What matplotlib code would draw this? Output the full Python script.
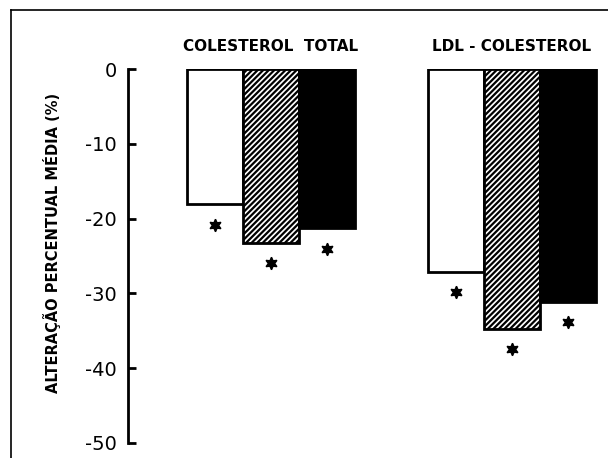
import matplotlib.pyplot as plt
from matplotlib.lines import Line2D
import numpy as np

# grupos e valores (% de alteracao media)
grupos = ['COLESTEROL  TOTAL', 'LDL - COLESTEROL']
branco = [-18.1, -27.1]
hachurado = [-23.3, -34.8]
preto = [-21.3, -31.1]
yticks = [0, -10, -20, -30, -40, -50]

fig = plt.figure(figsize=(6.08, 4.58), dpi=100)
ax = fig.add_axes([0.2105, 0.0328, 0.7845, 0.8165])

plt.rcParams['hatch.linewidth'] = 1.6

centros = np.array([1.0, 5.3])
w = 1.0
series = [
    (branco, 'white', ''),
    (hachurado, 'white', '//////'),
    (preto, 'black', ''),
]
for i, (vals, cor, hatch) in enumerate(series):
    xs = centros + (i - 1) * w
    ax.bar(xs, vals, width=w, color=cor, edgecolor='black', linewidth=2,
           hatch=hatch, zorder=2)
    # asteriscos de significancia
    ax.plot(xs, np.array(vals) - 2.7, linestyle='none', marker=(6, 1, 0),
            markersize=9, color='black', clip_on=False)

for c, nome in zip(centros, grupos):
    ax.text(c, 3.0, nome, ha='center', va='center', fontsize=11,
            fontweight='bold', family='DejaVu Sans', clip_on=False)

ax.set_xlim(-1.55, 6.96)
ax.set_ylim(-50, 0)
ax.set_yticks(yticks)
ax.set_yticklabels([str(t) for t in yticks], fontsize=14)
ax.tick_params(axis='y', direction='in', length=6, width=2, pad=8)
ax.set_xticks([])
for s in ['top', 'right', 'bottom']:
    ax.spines[s].set_visible(False)
ax.spines['left'].set_linewidth(2)
ax.set_ylabel('ALTERAÇÃO PERCENTUAL MÉDIA (%)', fontsize=10.5,
              fontweight='bold', va='center')
ax.yaxis.set_label_coords(-0.159, 0.535)

# moldura do scan (topo e esquerda)
fig.add_artist(Line2D([11 / 608, 1.0], [1 - 10 / 458, 1 - 10 / 458],
                      color='black', linewidth=1.2))
fig.add_artist(Line2D([11 / 608, 11 / 608], [0, 1 - 10 / 458],
                      color='black', linewidth=1.2))

fig.savefig('out.png', dpi=100)
